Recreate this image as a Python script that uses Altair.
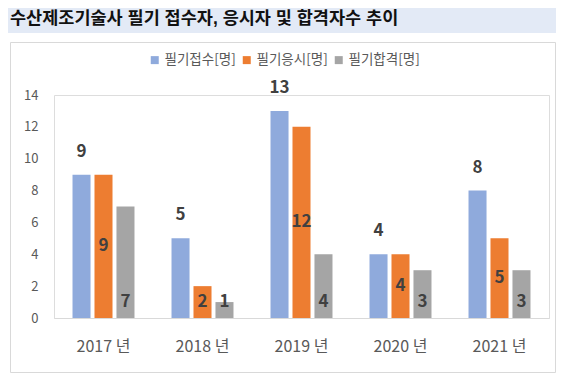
import altair as alt
import pandas as pd

years = ["2017 년", "2018 년", "2019 년", "2020 년", "2021 년"]
series = ["필기접수[명]", "필기응시[명]", "필기합격[명]"]
applied = [9, 5, 13, 4, 8]
taken = [9, 2, 12, 4, 5]
passed = [7, 1, 4, 3, 3]
colors = ["#8FAADC", "#ED7D31", "#A5A5A5"]
title_text = "수산제조기술사 필기 접수자, 응시자 및 합격자수 추이"
y_ticks = [0, 2, 4, 6, 8, 10, 12, 14]

rows = []
for i, yr in enumerate(years):
    for s, vals in zip(series, [applied, taken, passed]):
        rows.append({"year": yr, "series": s, "value": vals[i]})
df = pd.DataFrame(rows)

W, H = 495, 223
FONT = "Noto Sans CJK KR"

x_enc = alt.X(
    "year:N", sort=years,
    scale=alt.Scale(paddingInner=0.374, paddingOuter=0.187),
    axis=alt.Axis(title=None, labelAngle=0, domainColor="#D9D9D9", ticks=False,
                  labelPadding=20, labelFontSize=16, labelColor="#595959", labelFont=FONT),
)
xo_enc = alt.XOffset("series:N", sort=series, scale=alt.Scale(paddingInner=0.18, paddingOuter=0))
y_scale = alt.Scale(domain=[0, 14], nice=False)
y_axis = alt.Axis(title=None, values=y_ticks, grid=False, domain=False, ticks=False,
                  labelPadding=16, labelFontSize=13, labelColor="#595959", labelFont=FONT)

base = alt.Chart(df)

bars = base.mark_bar().encode(
    x=x_enc, xOffset=xo_enc,
    y=alt.Y("value:Q", scale=y_scale, axis=y_axis),
    color=alt.Color("series:N", sort=series,
                    scale=alt.Scale(domain=series, range=colors),
                    legend=alt.Legend(orient="none", legendX=94, legendY=-42, direction="horizontal",
                                      title=None, symbolType="square", symbolSize=64,
                                      symbolStrokeWidth=0, labelFontSize=13.5,
                                      labelColor="#595959", labelFont=FONT,
                                      columnPadding=4, labelOffset=3)),
)

lab_style = dict(fontSize=17, fontWeight="bold", color="#404040", font=FONT, baseline="middle")

lab_top = base.transform_filter(alt.datum.series == series[0]).mark_text(dy=-23, **lab_style).encode(
    x=x_enc, xOffset=xo_enc, y=alt.Y("value:Q", scale=y_scale, axis=y_axis), text="value:Q")

lab_mid = base.transform_filter(alt.datum.series == series[1]).transform_calculate(
    mid="datum.value / 2").mark_text(**lab_style).encode(
    x=x_enc, xOffset=xo_enc, y=alt.Y("mid:Q", scale=y_scale, axis=y_axis), text="value:Q")

lab_base = base.transform_filter(alt.datum.series == series[2]).mark_text(dy=-16, **lab_style).encode(
    x=x_enc, xOffset=xo_enc, y=alt.Y(datum=0, scale=y_scale, axis=y_axis), text="value:Q")

deco = alt.Chart(pd.DataFrame({"t": [title_text]}))
band = deco.mark_rect(color="#E3EAF6").encode(
    x=alt.value(-46), x2=alt.value(502), y=alt.value(-87), y2=alt.value(-62))
frame = deco.mark_rect(fill=None, stroke="#D9D9D9", strokeWidth=1).encode(
    x=alt.value(-43.5), x2=alt.value(501.5), y=alt.value(-52.5), y2=alt.value(277.5))
title = deco.mark_text(align="left", baseline="middle", fontSize=17.5, fontWeight="bold",
                       font="Liberation Sans, Noto Sans CJK KR", color="#111111").encode(
    x=alt.value(-44), y=alt.value(-76), text="t:N")

chart = alt.layer(band, frame, title, bars, lab_top, lab_mid, lab_base).properties(
    width=W, height=H,
    autosize=alt.AutoSizeParams(type="none"),
    padding={"left": 46, "top": 87, "right": 7, "bottom": 55},
    background="white",
).configure_view(stroke=None).configure(font=FONT)

chart.save("out.html", embed_options={"renderer": "svg", "actions": False})
